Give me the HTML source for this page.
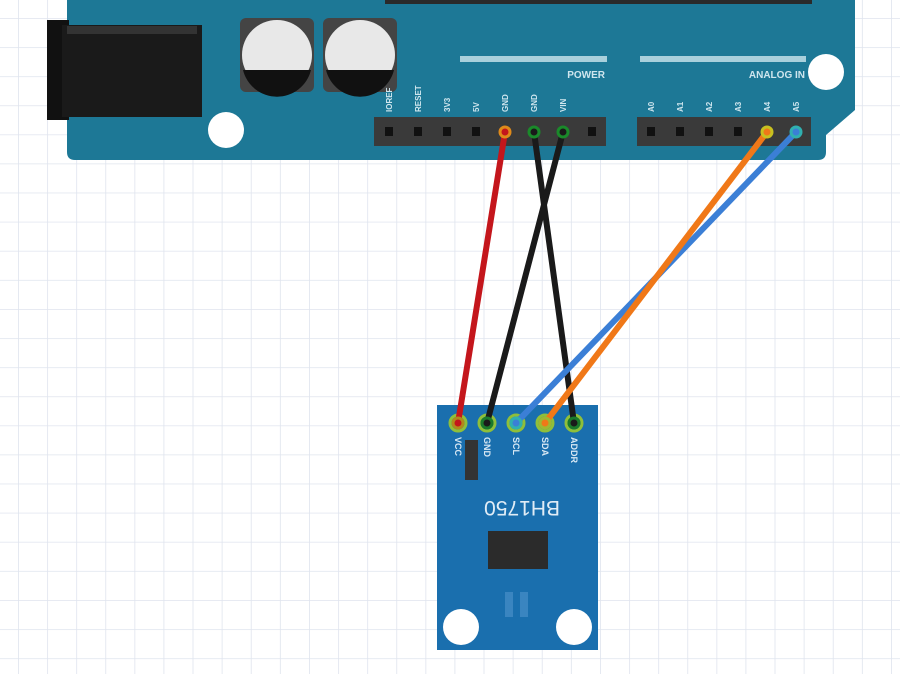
<!DOCTYPE html>
<html><head><meta charset="utf-8"><style>
html,body{margin:0;padding:0;background:#fff;}
svg{display:block}
</style></head><body>
<svg width="900" height="674" viewBox="0 0 900 674" xmlns="http://www.w3.org/2000/svg" font-family="Liberation Sans, sans-serif">
<defs>
<pattern id="g" x="18" y="18" width="29.1" height="29.1" patternUnits="userSpaceOnUse">
<path d="M0 0H29.1M0 0V29.1" stroke="#dfe4ee" stroke-width="1.6" fill="none"/>
</pattern>
</defs>
<rect width="900" height="674" fill="url(#g)"/>
<path d="M67 -10 H855 V110 L826 135 V152 Q826 160 818 160 H75 Q67 160 67 152 Z" fill="#1d7896"/>
<rect x="385" y="-5" width="427" height="9" fill="#2a2a2a"/>
<rect x="47" y="20" width="22" height="100" fill="#111"/>
<rect x="62" y="25" width="140" height="92" fill="#1a1a1a"/>
<rect x="67" y="26" width="130" height="8" fill="#333"/>
<g>
<rect x="240" y="18" width="74" height="74" rx="6" fill="#444"/>
<circle cx="277" cy="55" r="35" fill="#e8e8e8"/>
<path d="M243 70 H311 A35 35 0 0 1 243 70Z" fill="#111"/>
<rect x="323" y="18" width="74" height="74" rx="6" fill="#444"/>
<circle cx="360" cy="55" r="35" fill="#e8e8e8"/>
<path d="M326 70 H394 A35 35 0 0 1 326 70Z" fill="#111"/>
</g>
<circle cx="226" cy="130" r="18" fill="#fff"/>
<circle cx="826" cy="72" r="18" fill="#fff"/>
<rect x="460" y="56" width="147" height="6" fill="#a9d0dc"/>
<rect x="640" y="56" width="166" height="6" fill="#a9d0dc"/>
<text x="605" y="78" font-size="10" fill="#cfe6ee" text-anchor="end" font-weight="bold">POWER</text>
<text x="805" y="78" font-size="10" fill="#cfe6ee" text-anchor="end" font-weight="bold">ANALOG IN</text>
<g font-size="8" fill="#cfe6ee" font-weight="bold">
<text transform="translate(392,112) rotate(-90)">IOREF</text>
<text transform="translate(421,112) rotate(-90)">RESET</text>
<text transform="translate(450,112) rotate(-90)">3V3</text>
<text transform="translate(479,112) rotate(-90)">5V</text>
<text transform="translate(508,112) rotate(-90)">GND</text>
<text transform="translate(537,112) rotate(-90)">GND</text>
<text transform="translate(566,112) rotate(-90)">VIN</text>
<text transform="translate(654,112) rotate(-90)">A0</text>
<text transform="translate(683,112) rotate(-90)">A1</text>
<text transform="translate(712,112) rotate(-90)">A2</text>
<text transform="translate(741,112) rotate(-90)">A3</text>
<text transform="translate(770,112) rotate(-90)">A4</text>
<text transform="translate(799,112) rotate(-90)">A5</text>
</g>
<rect x="374" y="117" width="232" height="29" fill="#3a3a3a"/>
<rect x="637" y="117" width="174" height="29" fill="#3a3a3a"/>
<g fill="#111">
<rect x="385" y="127" width="8" height="9"/><rect x="414" y="127" width="8" height="9"/>
<rect x="443" y="127" width="8" height="9"/><rect x="472" y="127" width="8" height="9"/>
<rect x="588" y="127" width="8" height="9"/>
<rect x="647" y="127" width="8" height="9"/><rect x="676" y="127" width="8" height="9"/>
<rect x="705" y="127" width="8" height="9"/><rect x="734" y="127" width="8" height="9"/>
</g>
<rect x="437" y="405" width="161" height="245" fill="#1a6fae"/>
<rect x="465" y="440" width="13" height="40" fill="#333"/>
<text transform="translate(560,501) rotate(180)" font-size="21" fill="#e0ecf6">BH1750</text>
<rect x="488" y="531" width="60" height="38" fill="#2b2b2b"/>
<rect x="505" y="592" width="8" height="25" fill="#3a85c0"/>
<rect x="520" y="592" width="8" height="25" fill="#3a85c0"/>
<circle cx="461" cy="627" r="18" fill="#fff"/>
<circle cx="574" cy="627" r="18" fill="#fff"/>
<g font-size="9" fill="#d8e8f4" font-weight="bold">
<text transform="translate(455,437) rotate(90)">VCC</text>
<text transform="translate(484,437) rotate(90)">GND</text>
<text transform="translate(513,437) rotate(90)">SCL</text>
<text transform="translate(542,437) rotate(90)">SDA</text>
<text transform="translate(571,437) rotate(90)">ADDR</text>
</g>
<g fill="#1a6fae" stroke="#8fbf3a" stroke-width="3">
<circle cx="458" cy="423" r="8"/><circle cx="487" cy="423" r="8"/><circle cx="516" cy="423" r="8"/>
<circle cx="545" cy="423" r="8"/><circle cx="574" cy="423" r="8"/>
</g>
<g stroke-width="6" stroke-linecap="round" fill="none">
<line x1="505" y1="132" x2="458" y2="423" stroke="#c4161c"/>
<line x1="534" y1="132" x2="574" y2="423" stroke="#1a1a1a"/>
<line x1="563" y1="132" x2="487" y2="423" stroke="#1a1a1a"/>
<line x1="796" y1="132" x2="516" y2="423" stroke="#3b7fd6"/>
<line x1="767" y1="132" x2="545" y2="423" stroke="#f07818"/>
</g>
<g stroke-width="3" fill="none">
<circle cx="505" cy="132" r="5" stroke="#e08a1a" fill="#c4161c"/>
<circle cx="534" cy="132" r="5" stroke="#1a8a2a" fill="#1a1a1a"/>
<circle cx="563" cy="132" r="5" stroke="#1a8a2a" fill="#1a1a1a"/>
<circle cx="767" cy="132" r="5" stroke="#c8c020" fill="#f07818"/>
<circle cx="796" cy="132" r="5" stroke="#30b0b0" fill="#3b7fd6"/>
<circle cx="458" cy="423" r="5" stroke="#b08a1a" fill="#c4161c"/>
<circle cx="487" cy="423" r="5" stroke="#1a7a2a" fill="#1a1a1a"/>
<circle cx="516" cy="423" r="5" stroke="#30b0b0" fill="#3b7fd6"/>
<circle cx="545" cy="423" r="5" stroke="#a0b830" fill="#f07818"/>
<circle cx="574" cy="423" r="5" stroke="#1a7a2a" fill="#1a1a1a"/>
</g>
</svg>
</body></html>
